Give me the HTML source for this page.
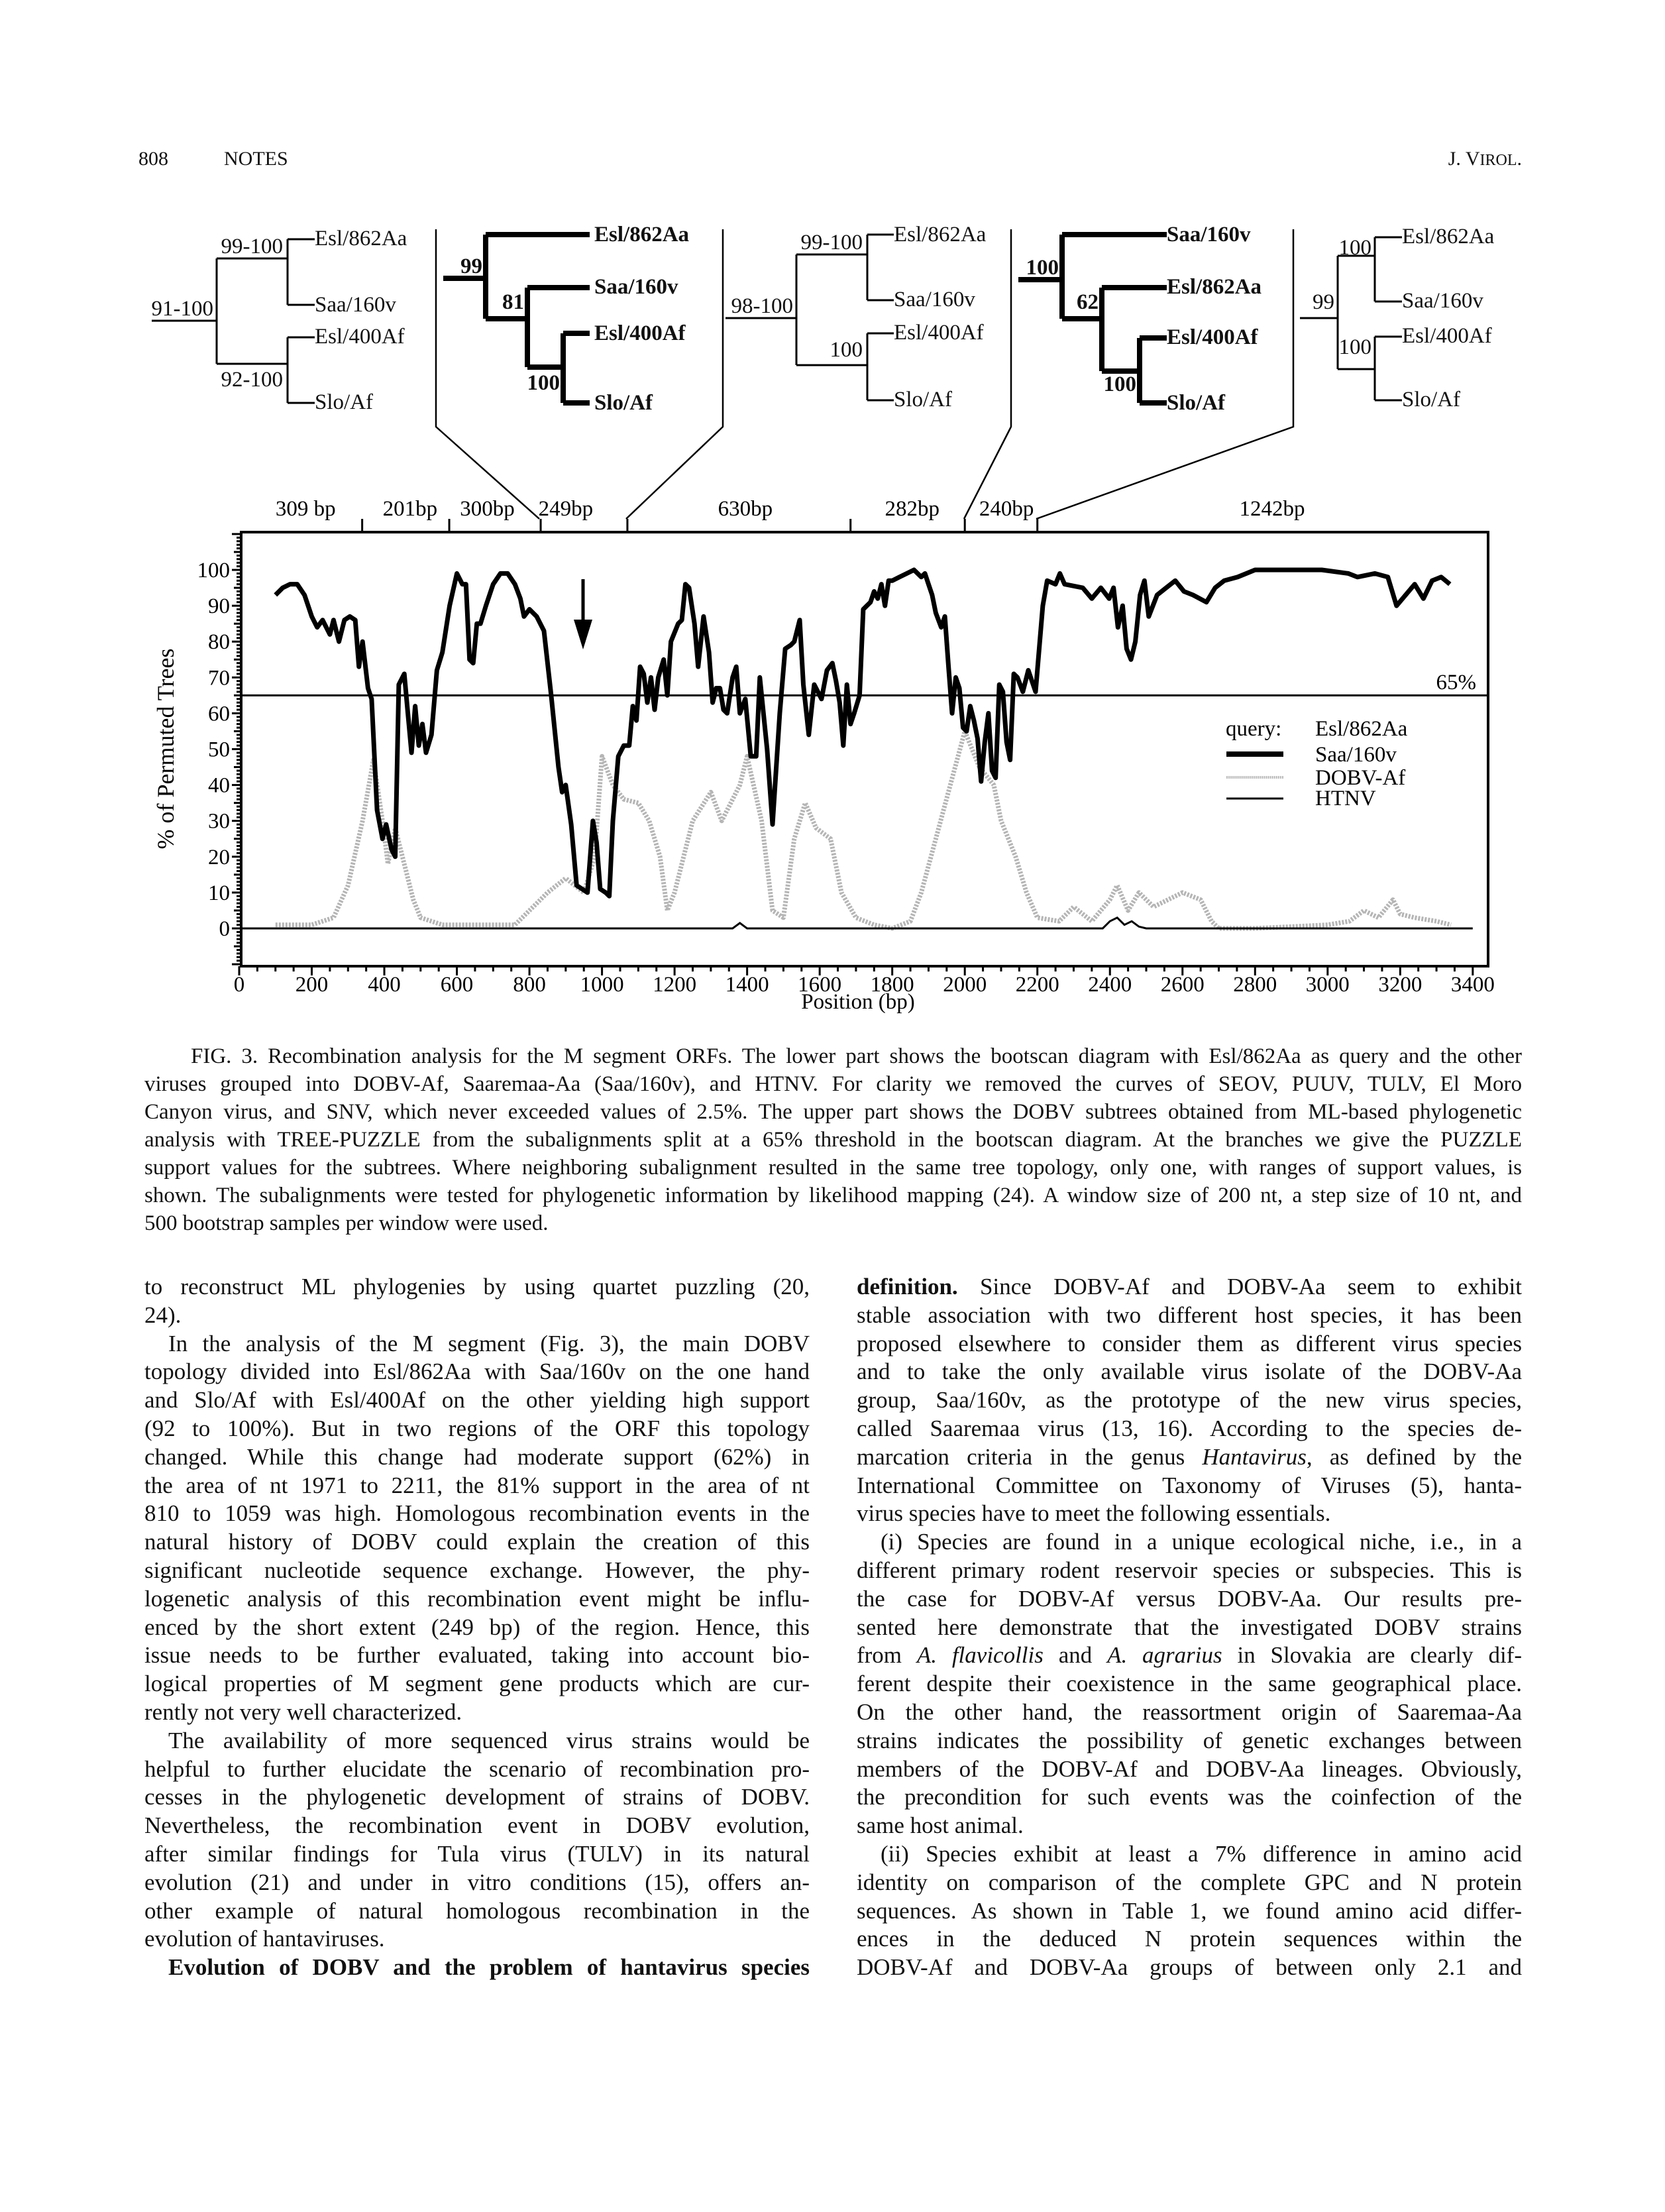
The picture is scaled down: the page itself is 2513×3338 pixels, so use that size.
<!DOCTYPE html>
<html><head><meta charset="utf-8">
<style>
html,body{margin:0;padding:0;background:#fff;}
body{width:2513px;height:3338px;position:relative;overflow:hidden;font-family:"Liberation Serif",serif;color:#111;}
.hdr{position:absolute;top:223px;font-size:30px;}
.ln{position:absolute;white-space:nowrap;text-align:justify;text-align-last:justify;}
.cap{font-size:33px;height:42px;line-height:42px;width:2079px;left:218px;}
.bl{font-size:35px;height:42px;line-height:42px;width:1004px;}
.last{text-align-last:left;}
svg text{font-family:"Liberation Serif",serif;}
</style></head>
<body>
<div class="hdr" style="left:209px">808</div>
<div class="hdr" style="left:338px">NOTES</div>
<div class="hdr" style="right:216px">J. V<span style="font-size:24px">IROL</span>.</div>

<svg id="fig" width="2513" height="1570" style="position:absolute;left:0;top:0" xmlns="http://www.w3.org/2000/svg">
<g id="trees" fill="none" stroke="#000">
 <g stroke-width="3">
  <path d="M229 484H327M327 390V549M327 390H434M327 549H434M434 361V460M434 361H475M434 460H475M434 509V608M434 509H475M434 608H475"/>
 </g>
 <g stroke-width="8">
  <path d="M669 420H733M733 354V481M733 354H890M733 481H796M796 434V554M796 434H890M796 554H850M850 503V608M850 503H890M850 608H890"/>
 </g>
 <g stroke-width="3">
  <path d="M1095 480H1202M1202 384V551M1202 384H1309M1202 551H1309M1309 354V453M1309 354H1349M1309 453H1349M1309 503V604M1309 503H1349M1309 604H1349"/>
 </g>
 <g stroke-width="8">
  <path d="M1537 422H1603M1603 354V481M1603 354H1761M1603 481H1663M1663 434V560M1663 434H1761M1663 560H1720M1720 510V608M1720 510H1761M1720 608H1761"/>
 </g>
 <g stroke-width="3">
  <path d="M1962 480H2019M2019 386V557M2019 386H2075M2019 557H2075M2075 358V455M2075 358H2116M2075 455H2116M2075 508V604M2075 508H2116M2075 604H2116"/>
 </g>
 <g stroke-width="2.5">
  <path d="M658 346V644L814 783M1091 346V644L945 783M1526 346V644L1455 783M1952 346V644L1564 783"/>
 </g>
</g>
<g font-size="33" fill="#111">
 <text x="475" y="370">Esl/862Aa</text><text x="475" y="470">Saa/160v</text><text x="475" y="518">Esl/400Af</text><text x="475" y="617">Slo/Af</text>
 <text x="427" y="382" text-anchor="end">99-100</text><text x="322" y="476" text-anchor="end">91-100</text><text x="427" y="583" text-anchor="end">92-100</text>
 <g font-weight="bold"><text x="897" y="364">Esl/862Aa</text><text x="897" y="443">Saa/160v</text><text x="897" y="513">Esl/400Af</text><text x="897" y="618">Slo/Af</text>
 <text x="728" y="412" text-anchor="end">99</text><text x="791" y="466" text-anchor="end">81</text><text x="845" y="588" text-anchor="end">100</text></g>
 <text x="1349" y="364">Esl/862Aa</text><text x="1349" y="462">Saa/160v</text><text x="1349" y="512">Esl/400Af</text><text x="1349" y="613">Slo/Af</text>
 <text x="1302" y="376" text-anchor="end">99-100</text><text x="1197" y="472" text-anchor="end">98-100</text><text x="1302" y="538" text-anchor="end">100</text>
 <g font-weight="bold"><text x="1761" y="364">Saa/160v</text><text x="1761" y="443">Esl/862Aa</text><text x="1761" y="519">Esl/400Af</text><text x="1761" y="618">Slo/Af</text>
 <text x="1598" y="414" text-anchor="end">100</text><text x="1658" y="466" text-anchor="end">62</text><text x="1715" y="590" text-anchor="end">100</text></g>
 <text x="2116" y="367">Esl/862Aa</text><text x="2116" y="464">Saa/160v</text><text x="2116" y="517">Esl/400Af</text><text x="2116" y="613">Slo/Af</text>
 <text x="2070" y="384" text-anchor="end">100</text><text x="2014" y="466" text-anchor="end">99</text><text x="2070" y="534" text-anchor="end">100</text>
</g>
<g id="segs" font-size="33"></g>
<g id="plot"></g>
</svg>

<div class="ln cap" style="top:1573px;text-indent:35px;width:2044px;left:253px">FIG. 3. Recombination analysis for the M segment ORFs. The lower part shows the bootscan diagram with Esl/862Aa as query and the other</div>
<div class="ln cap" style="top:1615px">viruses grouped into DOBV-Af, Saaremaa-Aa (Saa/160v), and HTNV. For clarity we removed the curves of SEOV, PUUV, TULV, El Moro</div>
<div class="ln cap" style="top:1657px">Canyon virus, and SNV, which never exceeded values of 2.5%. The upper part shows the DOBV subtrees obtained from ML-based phylogenetic</div>
<div class="ln cap" style="top:1699px">analysis with TREE-PUZZLE from the subalignments split at a 65% threshold in the bootscan diagram. At the branches we give the PUZZLE</div>
<div class="ln cap" style="top:1741px">support values for the subtrees. Where neighboring subalignment resulted in the same tree topology, only one, with ranges of support values, is</div>
<div class="ln cap" style="top:1783px">shown. The subalignments were tested for phylogenetic information by likelihood mapping (24). A window size of 200 nt, a step size of 10 nt, and</div>
<div class="ln cap last" style="top:1825px">500 bootstrap samples per window were used.</div>

<div id="colL"></div>
<div id="colR"></div>

<script>
// ---- chart data ----
const saaPos=[100,120,140,160,180,200,215,230,250,260,275,290,305,320,330,340,355,365,380,395,405,420,430,440,455,465,475,485,495,505,515,530,545,560,580,600,615,625,635,645,655,665,680,700,720,740,760,775,785,800,820,840,860,880,890,900,915,930,945,960,975,985,995,1010,1020,1030,1045,1060,1075,1085,1095,1105,1115,1125,1135,1145,1155,1170,1180,1190,1210,1220,1230,1240,1255,1265,1280,1295,1305,1315,1325,1335,1345,1360,1370,1380,1395,1410,1425,1435,1445,1455,1470,1490,1505,1520,1530,1545,1555,1570,1585,1595,1605,1620,1635,1645,1655,1665,1675,1685,1695,1710,1720,1730,1740,1750,1760,1770,1780,1790,1800,1820,1840,1860,1880,1890,1900,1910,1920,1935,1945,1955,1965,1975,1985,1995,2005,2015,2025,2035,2045,2055,2065,2075,2085,2095,2105,2115,2125,2135,2145,2160,2175,2195,2215,2227,2250,2262,2275,2325,2350,2375,2398,2410,2422,2435,2446,2458,2470,2483,2495,2507,2530,2555,2580,2604,2629,2666,2690,2715,2752,2800,2861,2910,2984,3057,3082,3130,3166,3190,3215,3240,3264,3288,3313,3337];
const saaVal=[93,95,96,96,93,87,84,86,82,86,80,86,87,86,73,80,67,64,33,25,29,22,20,68,71,60,49,62,51,57,49,54,72,77,90,99,96,96,75,74,85,85,90,96,99,99,96,92,87,89,87,83,65,45,38,40,29,12,11,10,30,24,11,10,9,30,48,51,51,62,58,73,71,63,70,61,70,75,65,80,85,86,96,95,85,73,87,77,63,67,67,61,60,70,73,60,64,48,48,70,60,50,29,60,78,79,80,86,68,54,68,66,64,72,74,69,63,51,68,57,60,65,89,90,91,94,92,96,90,97,97,98,99,100,98,99,96,93,88,84,87,73,60,70,67,56,55,62,58,53,41,52,60,44,42,68,66,52,47,71,70,66,72,66,90,97,96,99,96,95,92,95,92,95,84,90,78,75,80,93,97,87,93,95,97,94,93,91,95,97,98,100,100,100,100,99,98,99,98,90,93,96,92,97,98,96];
const dobvPos=[100,200,260,300,340,370,395,410,430,450,480,500,560,700,760,800,850,900,950,980,1000,1030,1060,1100,1130,1160,1180,1200,1250,1300,1330,1380,1400,1440,1470,1500,1530,1560,1590,1630,1660,1700,1750,1800,1850,1880,1920,1960,2000,2040,2080,2100,2140,2170,2200,2260,2300,2350,2400,2420,2450,2480,2520,2560,2600,2650,2680,2700,2800,3000,3060,3100,3140,3180,3200,3240,3300,3340];
const dobvVal=[1,1,3,12,30,47,30,18,28,20,8,3,1,1,1,5,10,14,10,20,48,40,36,35,30,20,5,10,30,38,30,40,48,30,5,3,25,35,28,25,10,3,1,0,2,10,25,40,55,45,40,30,20,10,3,2,6,2,8,12,5,10,6,8,10,8,2,0,0,1,2,5,3,8,4,3,2,1];
const htnvPos=[0,1360,1380,1400,2380,2400,2420,2440,2460,2480,2500,3400];
const htnvVal=[0,0,1.5,0,0,2,3,1,2,0.5,0,0];
const xTicks=[0,200,400,600,800,1000,1200,1400,1600,1800,2000,2200,2400,2600,2800,3000,3200,3400];
const yTicks=[0,10,20,30,40,50,60,70,80,90,100];
const segLabels=["309 bp","201bp","300bp","249bp","630bp","282bp","240bp","1242bp"];
const segCenters=[183,471,684,900,1395,1855,2115,2847];
const segBounds=[339,579,831,1070,1685,2000,2200];
const threshold=65;

const NS="http://www.w3.org/2000/svg";
const L=364,R=2246,T=803,B=1458;
const xs=v=>361+v*0.5476;
const ys=v=>1401-v*5.41;
function mk(tag,attrs,parent){const e=document.createElementNS(NS,tag);for(const k in attrs)e.setAttribute(k,attrs[k]);parent.appendChild(e);return e;}
const plot=document.getElementById('plot');
const segs=document.getElementById('segs');

segLabels.forEach((s,i)=>{const t=mk('text',{x:xs(segCenters[i]),y:778,'text-anchor':'middle'},segs);t.textContent=s;

});
segBounds.forEach(b=>{const l=mk('line',{x1:xs(b),x2:xs(b),y1:783,y2:803,stroke:'#000','stroke-width':3},segs);

});

const frame=mk('rect',{x:L,y:T,width:R-L,height:B-T,fill:'none',stroke:'#000','stroke-width':4},plot);



for(let v=-10;v<=110;v++){const len=v%10===0?14:(v%5===0?11:7);const y=ys(v);if(y<T||y>B)continue;
 const l=mk('line',{x1:L-len,x2:L,y1:y,y2:y,stroke:'#000','stroke-width':3},plot);
 
 }
yTicks.forEach(v=>{const t=mk('text',{x:347,y:ys(v)+11,'text-anchor':'end','font-size':33},plot);t.textContent=v;
 
 });
for(let v=0;v<=3400;v+=50){const len=v%200===0?14:8;
 const l=mk('line',{x1:xs(v),x2:xs(v),y1:B,y2:B+len,stroke:'#000','stroke-width':3},plot);
 
 }
xTicks.forEach(v=>{const t=mk('text',{x:xs(v),y:1496,'text-anchor':'middle','font-size':33},plot);t.textContent=v;
 
 });
const xt=mk('text',{x:1295,y:1522,'text-anchor':'middle','font-size':33,'font-family':'Liberation Sans'},plot);xt.textContent='Position (bp)';


const yt=mk('text',{x:262,y:1130,'text-anchor':'middle','font-size':36,transform:'rotate(-90 262 1130)'},plot);yt.textContent='% of Permuted Trees';



const th=mk('line',{x1:L,x2:R,y1:ys(threshold),y2:ys(threshold),stroke:'#000','stroke-width':3},plot);


const tl=mk('text',{x:2228,y:1040,'text-anchor':'end','font-size':33},plot);tl.textContent=threshold+'%';



function path(pos,val){return pos.map((p,i)=>(i?'L':'M')+xs(p).toFixed(1)+' '+ys(val[i]).toFixed(1)).join('');}
const g1=mk('path',{d:path(dobvPos,dobvVal),fill:'none',stroke:'#b5b5b5','stroke-width':7,'stroke-dasharray':'3 2','stroke-linejoin':'round'},plot);


const g2=mk('path',{d:path(htnvPos,htnvVal),fill:'none',stroke:'#000','stroke-width':3},plot);


const g3=mk('path',{d:path(saaPos,saaVal),fill:'none',stroke:'#000','stroke-width':7,'stroke-linejoin':'round'},plot);



const ar=mk('path',{d:'M880 874V945',stroke:'#000','stroke-width':5,fill:'none'},plot);


const ah=mk('path',{d:'M866 935L894 935L880 980Z',fill:'#000'},plot);



const lg=mk('g',{'font-size':33},plot);


[['query:',1850,1110],['Esl/862Aa',1985,1110],['Saa/160v',1985,1149],['DOBV-Af',1985,1184],['HTNV',1985,1215]].forEach(a=>{const t=mk('text',{x:a[1],y:a[2]},lg);t.textContent=a[0];
 
 });
const l1=mk('line',{x1:1851,x2:1937,y1:1138,y2:1138,stroke:'#000','stroke-width':8},lg);


const l2=mk('line',{x1:1851,x2:1937,y1:1173,y2:1173,stroke:'#bbb','stroke-width':4,'stroke-dasharray':'2 1'},lg);


const l3=mk('line',{x1:1851,x2:1937,y1:1205,y2:1205,stroke:'#000','stroke-width':3},lg);



const left=[["to reconstruct ML phylogenies by using quartet puzzling (20,",0],["24).",2],
["In the analysis of the M segment (Fig. 3), the main DOBV",1],["topology divided into Esl/862Aa with Saa/160v on the one hand",0],
["and Slo/Af with Esl/400Af on the other yielding high support",0],["(92 to 100%). But in two regions of the ORF this topology",0],
["changed. While this change had moderate support (62%) in",0],["the area of nt 1971 to 2211, the 81% support in the area of nt",0],
["810 to 1059 was high. Homologous recombination events in the",0],["natural history of DOBV could explain the creation of this",0],
["significant nucleotide sequence exchange. However, the phy-",0],["logenetic analysis of this recombination event might be influ-",0],
["enced by the short extent (249 bp) of the region. Hence, this",0],["issue needs to be further evaluated, taking into account bio-",0],
["logical properties of M segment gene products which are cur-",0],["rently not very well characterized.",2],
["The availability of more sequenced virus strains would be",1],["helpful to further elucidate the scenario of recombination pro-",0],
["cesses in the phylogenetic development of strains of DOBV.",0],["Nevertheless, the recombination event in DOBV evolution,",0],
["after similar findings for Tula virus (TULV) in its natural",0],["evolution (21) and under in vitro conditions (15), offers an-",0],
["other example of natural homologous recombination in the",0],["evolution of hantaviruses.",2],
["<b>Evolution of DOBV and the problem of hantavirus species</b>",1]];
const right=[["<b>definition.</b> Since DOBV-Af and DOBV-Aa seem to exhibit",0],["stable association with two different host species, it has been",0],
["proposed elsewhere to consider them as different virus species",0],["and to take the only available virus isolate of the DOBV-Aa",0],
["group, Saa/160v, as the prototype of the new virus species,",0],["called Saaremaa virus (13, 16). According to the species de-",0],
["marcation criteria in the genus <i>Hantavirus</i>, as defined by the",0],["International Committee on Taxonomy of Viruses (5), hanta-",0],
["virus species have to meet the following essentials.",2],["(i) Species are found in a unique ecological niche, i.e., in a",1],
["different primary rodent reservoir species or subspecies. This is",0],["the case for DOBV-Af versus DOBV-Aa. Our results pre-",0],
["sented here demonstrate that the investigated DOBV strains",0],["from <i>A. flavicollis</i> and <i>A. agrarius</i> in Slovakia are clearly dif-",0],
["ferent despite their coexistence in the same geographical place.",0],["On the other hand, the reassortment origin of Saaremaa-Aa",0],
["strains indicates the possibility of genetic exchanges between",0],["members of the DOBV-Af and DOBV-Aa lineages. Obviously,",0],
["the precondition for such events was the coinfection of the",0],["same host animal.",2],
["(ii) Species exhibit at least a 7% difference in amino acid",1],["identity on comparison of the complete GPC and N protein",0],
["sequences. As shown in Table 1, we found amino acid differ-",0],["ences in the deduced N protein sequences within the",0],
["DOBV-Af and DOBV-Aa groups of between only 2.1 and",0]];
function col(lines,x,parent){lines.forEach((a,i)=>{const d=document.createElement('div');
 d.className='ln bl'+(a[1]===2?' last':'');
 
 
 const ind=a[1]===1?36:0;
 d.style.left=(x+ind)+'px';d.style.width=(1004-ind)+'px';d.style.top=(1921+i*42.8)+'px';
 d.innerHTML=a[0];parent.appendChild(d);});}
col(left,218,document.getElementById('colL'));
col(right,1293,document.getElementById('colR'));
</script>
</body></html>
